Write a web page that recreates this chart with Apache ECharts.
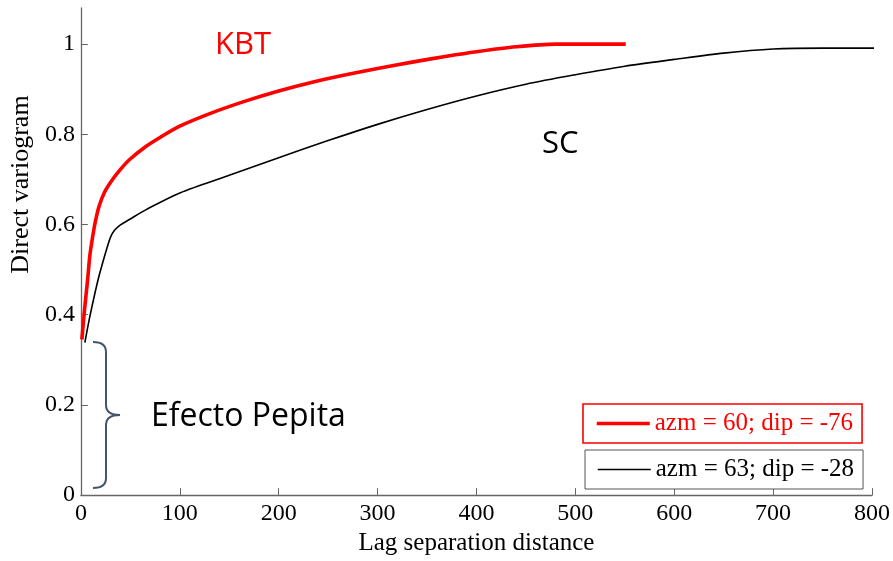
<!DOCTYPE html>
<html>
<head>
<meta charset="utf-8">
<script src="https://cdn.jsdelivr.net/npm/echarts@6/dist/echarts.min.js"></script>
<style>html,body{margin:0;padding:0;background:#fff;}#chart{width:893px;height:561px;}</style>
</head>
<body>
<div id="chart"></div>
<script>
// KBT (azm = 60; dip = -76)
const kbtDist = [1, 3.4, 6.8, 9, 11.4, 14.5, 18.3, 24, 31.8, 40, 48.7, 65.7, 80, 100, 133, 167, 200, 235, 268, 300, 335, 370, 400, 440, 480, 551];
const kbtVar  = [0.345, 0.405, 0.478, 0.53, 0.566, 0.605, 0.64, 0.672, 0.699, 0.722, 0.743, 0.773, 0.793, 0.818, 0.848, 0.874, 0.896, 0.916, 0.932, 0.946, 0.96, 0.973, 0.983, 0.994, 1.0, 1.0];
// SC (azm = 63; dip = -28)
const scDist = [4, 8.5, 13.5, 18, 22, 26, 30, 34, 40, 49, 66, 100, 150, 200, 250, 300, 350, 400, 450, 500, 550, 600, 650, 700, 750, 805];
const scVar  = [0.338, 0.39, 0.441, 0.483, 0.515, 0.545, 0.572, 0.587, 0.599, 0.611, 0.633, 0.67, 0.709, 0.748, 0.786, 0.822, 0.855, 0.885, 0.911, 0.932, 0.951, 0.966, 0.98, 0.989, 0.991, 0.991];
const yTicks = [0, 0.2, 0.4, 0.6, 0.8, 1];
const legendNames = ['azm = 60; dip = -76', 'azm = 63; dip = -28'];

const zip = (a, b) => a.map((v, i) => [v, b[i]]);
const serif = '"Liberation Serif", "Times New Roman", serif';
const sans = '"Open Sans", "Noto Sans", sans-serif';
const axisColor = '#666';
const braceStyle = {stroke: '#44546a', lineWidth: 2, fill: null};

const chart = echarts.init(document.getElementById('chart'), null, {renderer: 'canvas'});
chart.setOption({
  animation: false,
  backgroundColor: '#fff',
  grid: {left: 80, right: 21, top: 8, bottom: 65},
  xAxis: {
    type: 'value', min: 0, max: 800, interval: 100,
    name: 'Lag separation distance', nameLocation: 'middle', nameGap: 30,
    nameTextStyle: {fontFamily: serif, fontSize: 25, color: '#000'},
    axisLine: {lineStyle: {color: axisColor, width: 1.3}},
    axisTick: {inside: true, length: 7, lineStyle: {color: axisColor}},
    axisLabel: {fontFamily: serif, fontSize: 24, color: '#000', margin: 7},
    splitLine: {show: false}
  },
  yAxis: {
    type: 'value', min: 0, max: 1.08,
    name: 'Direct variogram', nameLocation: 'middle', nameGap: 44,
    nameTextStyle: {fontFamily: serif, fontSize: 26, color: '#000', padding: [0, 0, 0, 134]},
    axisLine: {show: true, lineStyle: {color: axisColor, width: 1.3}},
    axisTick: {show: true, inside: true, length: 7, customValues: yTicks, lineStyle: {color: axisColor}},
    axisLabel: {fontFamily: serif, fontSize: 24, color: '#000', margin: 6, customValues: yTicks},
    splitLine: {show: false}
  },
  legend: [
    {
      data: [legendNames[0]], left: 583, top: 404, padding: [7, 9, 7, 12],
      itemWidth: 53, itemHeight: 14, selectedMode: false,
      borderColor: '#ff0000', borderWidth: 1.6, backgroundColor: '#fff',
      itemStyle: {opacity: 0}, lineStyle: {width: 3.5},
      textStyle: {fontFamily: serif, fontSize: 25, color: '#ff0000'}
    },
    {
      data: [legendNames[1]], left: 585, top: 450, padding: [7, 9, 7, 12],
      itemWidth: 53, itemHeight: 14, selectedMode: false,
      borderColor: '#555', borderWidth: 1, backgroundColor: '#fff',
      itemStyle: {opacity: 0}, lineStyle: {width: 1.5},
      textStyle: {fontFamily: serif, fontSize: 25, color: '#000'}
    }
  ],
  series: [
    {
      name: legendNames[1], type: 'line', data: zip(scDist, scVar),
      symbol: 'none', smooth: 0.3, lineStyle: {color: '#000', width: 1.6}, itemStyle: {color: '#000'}
    },
    {
      name: legendNames[0], type: 'line', data: zip(kbtDist, kbtVar),
      symbol: 'none', smooth: 0.3, lineStyle: {color: '#ff0000', width: 3.6}, itemStyle: {color: '#ff0000'}
    }
  ],
  graphic: [
    {type: 'text', x: 215, y: 45, style: {text: 'KBT', fill: '#ff0000', font: '31px ' + sans, verticalAlign: 'middle'}},
    {type: 'text', x: 542, y: 144, style: {text: 'SC', fill: '#000', font: '31px ' + sans, verticalAlign: 'middle'}},
    {type: 'text', x: 151, y: 417, style: {text: 'Efecto Pepita', fill: '#000', font: '32px ' + sans, verticalAlign: 'middle'}},
    {type: 'bezierCurve', shape: {x1: 93, y1: 342, cpx1: 106, cpy1: 342, x2: 106, y2: 352}, style: braceStyle},
    {type: 'line', shape: {x1: 106, y1: 352, x2: 106, y2: 405}, style: braceStyle},
    {type: 'bezierCurve', shape: {x1: 106, y1: 405, cpx1: 106, cpy1: 415, x2: 120, y2: 415}, style: braceStyle},
    {type: 'bezierCurve', shape: {x1: 120, y1: 415, cpx1: 106, cpy1: 415, x2: 106, y2: 425}, style: braceStyle},
    {type: 'line', shape: {x1: 106, y1: 425, x2: 106, y2: 478}, style: braceStyle},
    {type: 'bezierCurve', shape: {x1: 106, y1: 478, cpx1: 106, cpy1: 488, x2: 93, y2: 488}, style: braceStyle}
  ]
});
</script>
</body>
</html>
